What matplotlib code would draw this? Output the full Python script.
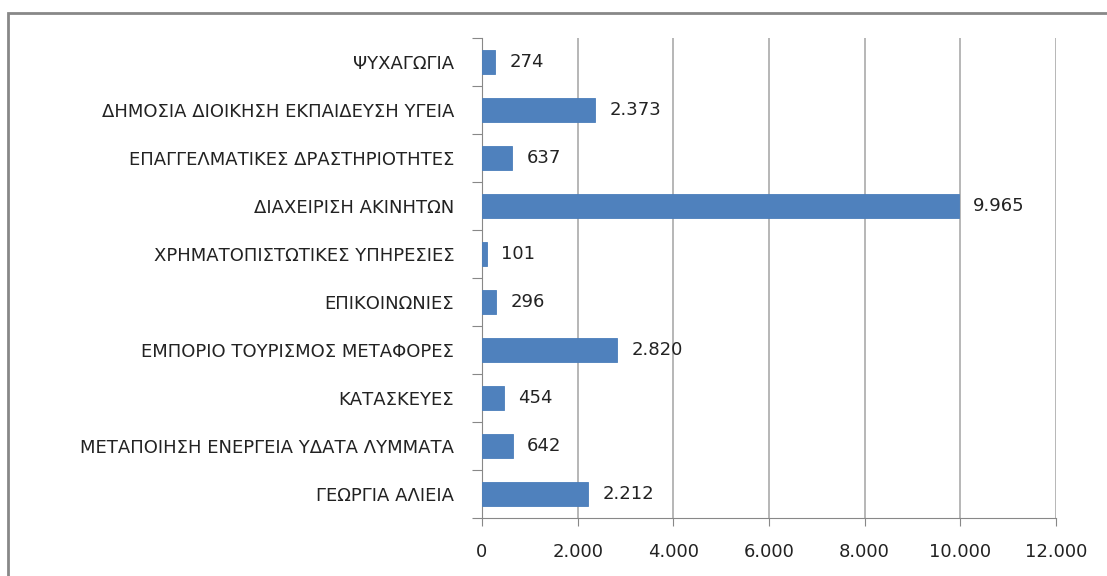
import matplotlib
matplotlib.use("Agg")
import matplotlib.pyplot as plt
from matplotlib.patches import Rectangle
from matplotlib.ticker import FuncFormatter, MultipleLocator

categories = [
    "ΓΕΩΡΓΙΑ ΑΛΙΕΙΑ",
    "ΜΕΤΑΠΟΙΗΣΗ ΕΝΕΡΓΕΙΑ ΥΔΑΤΑ ΛΥΜΜΑΤΑ",
    "ΚΑΤΑΣΚΕΥΕΣ",
    "ΕΜΠΟΡΙΟ ΤΟΥΡΙΣΜΟΣ ΜΕΤΑΦΟΡΕΣ",
    "ΕΠΙΚΟΙΝΩΝΙΕΣ",
    "ΧΡΗΜΑΤΟΠΙΣΤΩΤΙΚΕΣ ΥΠΗΡΕΣΙΕΣ",
    "ΔΙΑΧΕΙΡΙΣΗ ΑΚΙΝΗΤΩΝ",
    "ΕΠΑΓΓΕΛΜΑΤΙΚΕΣ ΔΡΑΣΤΗΡΙΟΤΗΤΕΣ",
    "ΔΗΜΟΣΙΑ ΔΙΟΙΚΗΣΗ ΕΚΠΑΙΔΕΥΣΗ ΥΓΕΙΑ",
    "ΨΥΧΑΓΩΓΙΑ",
]
values = [2212, 642, 454, 2820, 296, 101, 9965, 637, 2373, 274]

def fmt(v):
    return f"{int(v):,}".replace(",", ".")

plt.rcParams['font.family'] = ['DejaVu Sans']
FS = 13

fig = plt.figure(figsize=(11.07, 5.76), dpi=100)
ax = fig.add_axes([0.4354, 0.1007, 0.5185, 0.8333])

y = list(range(len(categories)))
ax.barh(y, values, height=0.48, color="#4F81BD", edgecolor="#4A7EBB", linewidth=0.6, zorder=3)
for yi, v in zip(y, values):
    ax.text(v + 300, yi, fmt(v), va="center", ha="left", fontsize=FS, color="#222222")

ax.set_xlim(0, 12000)
ax.set_ylim(-0.5, len(categories) - 0.5)
ax.xaxis.set_major_locator(MultipleLocator(2000))
ax.xaxis.set_major_formatter(FuncFormatter(lambda v, p: fmt(v)))
ax.set_yticks([i - 0.5 for i in range(len(categories) + 1)], minor=False)
ax.set_yticklabels([])
ax.set_yticks(y, minor=True)
ax.set_yticklabels(categories, minor=True)
ax.tick_params(axis="y", which="minor", length=0, pad=20, labelsize=FS, labelcolor="#222222")
ax.tick_params(axis="y", which="major", length=7, color="#888888", direction="out")
ax.tick_params(axis="x", length=6, color="#888888", pad=12, labelsize=FS, labelcolor="#222222")
ax.grid(axis="x", color="#aaaaaa", linewidth=1.2, zorder=0)
for s in ["top", "right"]:
    ax.spines[s].set_visible(False)
ax.spines["left"].set_color("#888888")
ax.spines["bottom"].set_color("#888888")

frame = Rectangle((8 / 1107, -0.05), 1.1, 1 - 13 / 576 + 0.05, transform=fig.transFigure,
                  fill=False, edgecolor="#888888", linewidth=2, clip_on=False)
fig.patches.append(frame)

fig.savefig("out.png", dpi=100)
